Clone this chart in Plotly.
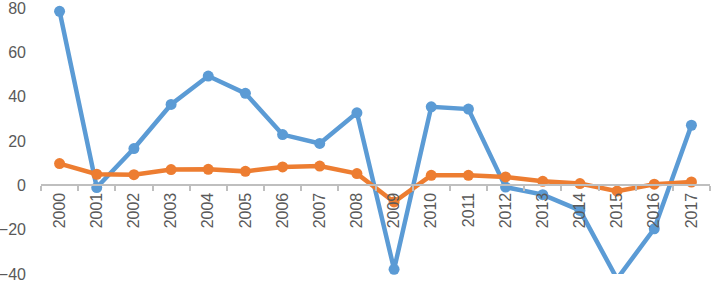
import plotly.graph_objects as go

years = [str(y) for y in range(2000, 2018)]
series_blue = [78.5, -1.0, 16.6, 36.5, 49.3, 41.5, 22.9, 18.9, 32.7, -37.9,
               35.4, 34.4, -0.8, -4.2, -11.3, -42.2, -19.6, 27.1]
series_orange = [9.8, 5.0, 4.8, 7.1, 7.2, 6.3, 8.3, 8.7, 5.3, -7.5,
                 4.5, 4.5, 3.8, 1.8, 0.8, -2.6, 0.5, 1.5]
y_ticks = [-40, -20, 0, 20, 40, 60, 80]

BLUE = "#5B9BD5"
ORANGE = "#ED7D31"
TXT = "#595959"
FONT = "Liberation Sans"

fig = go.Figure()
fig.add_trace(go.Scatter(x=years, y=series_blue, mode="lines+markers", name="Series 1",
                         line=dict(color=BLUE, width=4.5),
                         marker=dict(color=BLUE, size=11), cliponaxis=False))
fig.add_trace(go.Scatter(x=years, y=series_orange, mode="lines+markers", name="Series 2",
                         line=dict(color=ORANGE, width=4.5),
                         marker=dict(color=ORANGE, size=11), cliponaxis=False))

fig.update_layout(
    width=711, height=285,
    margin=dict(l=41, r=1, t=8, b=11),
    paper_bgcolor="white", plot_bgcolor="white",
    showlegend=False,
    font=dict(family=FONT, size=15, color=TXT),
    xaxis=dict(type="category", range=[-0.5, 17.5], anchor="free", position=1/3,
               showline=True, linecolor="#BFBFBF", linewidth=2,
               ticks="outside", ticklen=5, tickcolor="#BFBFBF", tickwidth=1.5,
               tickson="boundaries", tickangle=-90, showgrid=False, zeroline=False,
               automargin=False, ticklabeloverflow="allow",
               tickfont=dict(family=FONT, size=16, color=TXT)),
    yaxis=dict(range=[-40, 80], tickvals=y_ticks, showgrid=False, zeroline=False,
               showline=False, ticks="", ticklabelstandoff=14, automargin=False,
               ticklabeloverflow="allow",
               tickfont=dict(family=FONT, size=16, color=TXT)),
)

fig.write_html("out.html", config={"displayModeBar": False},
               post_script="document.body.style.margin='0';document.body.style.overflow='hidden';")
